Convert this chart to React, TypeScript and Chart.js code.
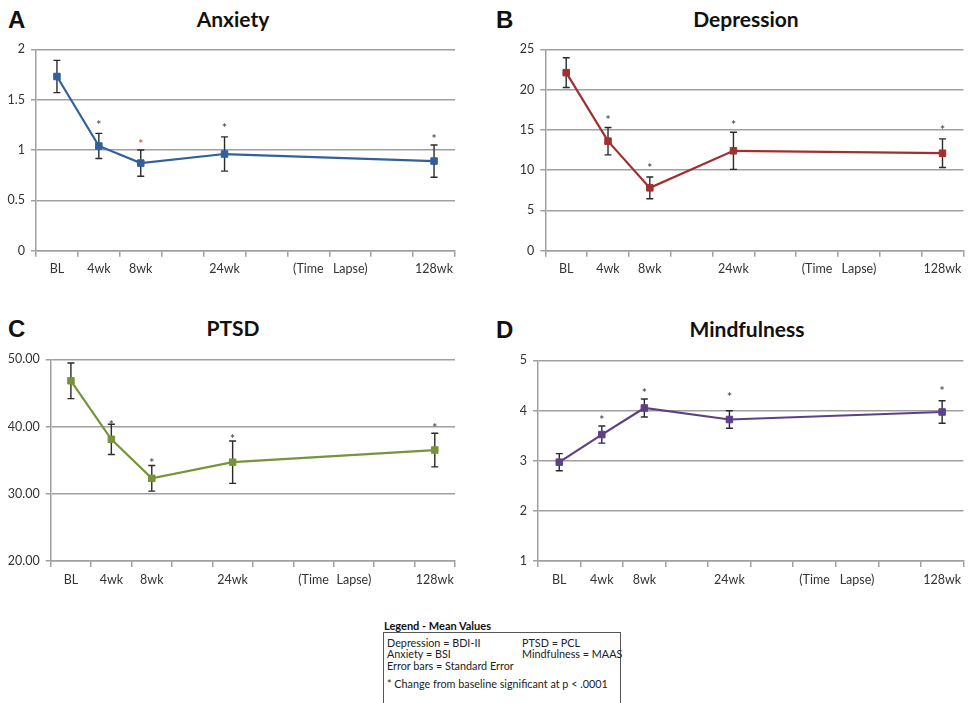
import React, { useEffect, useRef } from 'react';
import { Chart, registerables } from 'chart.js';

Chart.register(...registerables);

// ---------- data ----------
const categories = ['BL', '4wk', '8wk', '', '24wk', '', '(Time', 'Lapse)', '', '128wk'];

const anxietyMean = [1.73, 1.04, 0.87, null, 0.96, null, null, null, null, 0.89];
const anxietySE = [0.16, 0.125, 0.13, null, 0.17, null, null, null, null, 0.16];
const anxietySig = [null, 1.28, 1.09, null, 1.25, null, null, null, null, 1.14];
const anxietyTicks = [0, 0.5, 1, 1.5, 2];

const depressionMean = [22.1, 13.6, 7.8, null, 12.4, null, null, null, null, 12.1];
const depressionSE = [1.85, 1.7, 1.35, null, 2.3, null, null, null, null, 1.78];
const depressionSig = [null, 16.6, 10.6, null, 16.0, null, null, null, null, 15.3];
const depressionTicks = [0, 5, 10, 15, 20, 25];

const ptsdMean = [46.8, 38.1, 32.3, null, 34.7, null, null, null, null, 36.5];
const ptsdSE = [2.65, 2.25, 1.9, null, 3.15, null, null, null, null, 2.5];
const ptsdSig = [null, 40.7, 35.0, null, 38.6, null, null, null, null, 40.3];
const ptsdTicks = [20, 30, 40, 50];

const mindfulMean = [2.97, 3.52, 4.05, null, 3.82, null, null, null, null, 3.97];
const mindfulSE = [0.17, 0.17, 0.18, null, 0.175, null, null, null, null, 0.225];
const mindfulSig = [null, 3.86, 4.41, null, 4.33, null, null, null, null, 4.45];
const mindfulTicks = [1, 2, 3, 4, 5];

const legendRows = [
  ['Depression = BDI-II', 'PTSD = PCL'],
  ['Anxiety = BSI', 'Mindfulness = MAAS'],
  ['Error bars = Standard Error', ''],
];
const legendNote = '* Change from baseline significant at p < .0001';

// ---------- style ----------
const GRID = '#a0a0a0';
const TXT = '#333333';
const FONT = 'Lato, "Open Sans", sans-serif';

const errorBarPlugin = {
  id: 'errorBarsSig',
  beforeDatasetsDraw(chart: any) {
    const ds: any = chart.data.datasets[0];
    const xs = chart.scales.x;
    const ys = chart.scales.y;
    const ctx = chart.ctx;
    ctx.save();
    ctx.strokeStyle = '#2b2b2b';
    ctx.lineWidth = 1.4;
    ds.data.forEach((v: number | null, i: number) => {
      const se = ds.se[i];
      if (v == null || se == null) return;
      const x = xs.getPixelForValue(i);
      const yt = ys.getPixelForValue(v + se);
      const yb = ys.getPixelForValue(v - se);
      ctx.beginPath();
      ctx.moveTo(x, yt);
      ctx.lineTo(x, yb);
      ctx.moveTo(x - 3.5, yt);
      ctx.lineTo(x + 3.5, yt);
      ctx.moveTo(x - 3.5, yb);
      ctx.lineTo(x + 3.5, yb);
      ctx.stroke();
    });
    ctx.restore();
  },
  afterDatasetsDraw(chart: any) {
    const ds: any = chart.data.datasets[0];
    const xs = chart.scales.x;
    const ys = chart.scales.y;
    const ctx = chart.ctx;
    ctx.save();
    ctx.font = `bold 12px ${FONT}`;
    ctx.textAlign = 'center';
    ctx.textBaseline = 'alphabetic';
    ds.sig.forEach((v: number | null, i: number) => {
      if (v == null) return;
      const x = xs.getPixelForValue(i);
      const y = ys.getPixelForValue(v);
      ctx.fillStyle = (ds.sigColors && ds.sigColors[i]) || '#555555';
      ctx.fillText('*', x, y + 7);
    });
    ctx.restore();
  },
};

type PanelProps = {
  left: number; top: number; width: number; height: number;
  yWidth: number; padTop: number; padRight: number; xHeight: number;
  mean: (number | null)[]; se: (number | null)[]; sig: (number | null)[];
  ticks: number[]; color: string; decimals?: number; sigColors?: (string | null)[];
};

function Panel(p: PanelProps) {
  const ref = useRef<HTMLCanvasElement | null>(null);
  useEffect(() => {
    if (!ref.current) return;
    const tickVals = p.ticks;
    const chart = new Chart(ref.current, {
      type: 'line',
      data: {
        labels: categories,
        datasets: [
          {
            data: p.mean,
            se: p.se,
            sig: p.sig,
            sigColors: p.sigColors,
            borderColor: p.color,
            backgroundColor: p.color,
            pointBorderColor: p.color,
            pointBackgroundColor: p.color,
            borderWidth: 2.2,
            pointStyle: 'rect',
            pointRadius: 4.6,
            pointBorderWidth: 1,
            spanGaps: true,
            tension: 0,
          } as any,
        ],
      },
      options: {
        animation: false,
        responsive: false,
        devicePixelRatio: 1,
        layout: { padding: { top: p.padTop, right: p.padRight, left: 0, bottom: 0 } },
        plugins: { legend: { display: false }, tooltip: { enabled: false }, title: { display: false } },
        scales: {
          x: {
            type: 'category',
            offset: true,
            grid: { offset: true, drawOnChartArea: false, drawTicks: true, tickLength: 6, color: GRID, lineWidth: 1.5 },
            border: { display: true, color: GRID, width: 1.5 },
            ticks: { color: TXT, font: { family: FONT, size: 12.5 }, autoSkip: false, maxRotation: 0, minRotation: 0, padding: 5 },
            afterFit: (s: any) => { s.height = p.xHeight; },
          },
          y: {
            min: tickVals[0],
            max: tickVals[tickVals.length - 1],
            afterBuildTicks: (s: any) => { s.ticks = tickVals.map((v) => ({ value: v })); },
            grid: { color: GRID, lineWidth: 1.5, tickLength: 5, drawTicks: true },
            border: { display: true, color: GRID, width: 1.5 },
            ticks: {
              color: TXT,
              font: { family: FONT, size: 12.5 },
              padding: 6,
              callback: (v: any) => (p.decimals ? Number(v).toFixed(p.decimals) : String(v)),
            },
            afterFit: (s: any) => { s.width = p.yWidth; },
          },
        },
      },
      plugins: [errorBarPlugin as any],
    });
    return () => chart.destroy();
  }, []);
  return (
    <canvas
      ref={ref}
      width={p.width}
      height={p.height}
      style={{ position: 'absolute', left: p.left, top: p.top, width: p.width, height: p.height }}
    />
  );
}

const letterStyle = (left: number, top: number): React.CSSProperties => ({
  position: 'absolute', left, top, fontFamily: '"Liberation Sans", Arial, sans-serif',
  fontWeight: 'bold', fontSize: 24, lineHeight: '24px', color: '#111', margin: 0,
});
const titleStyle = (center: number, top: number): React.CSSProperties => ({
  position: 'absolute', left: center - 150, width: 300, top, textAlign: 'center', fontFamily: FONT,
  fontWeight: 'bold', fontSize: 21, lineHeight: '21px', color: '#111',
});

export default function App() {
  return (
    <div style={{ position: 'absolute', left: 0, top: 0, width: 969, height: 703, overflow: 'hidden', background: '#ffffff' }}>
      <div style={letterStyle(8, 8)}>A</div>
      <div style={titleStyle(233, 7.5)}>Anxiety</div>
      <div style={letterStyle(496, 8)}>B</div>
      <div style={titleStyle(746, 7.5)}>Depression</div>
      <div style={letterStyle(8, 317)}>C</div>
      <div style={titleStyle(233, 317)}>PTSD</div>
      <div style={letterStyle(496, 318)}>D</div>
      <div style={titleStyle(747, 317.5)}>Mindfulness</div>

      <Panel left={0} top={35} width={470} height={250} yWidth={36} padTop={14.3} padRight={15} xHeight={34.3}
        mean={anxietyMean} se={anxietySE} sig={anxietySig} ticks={anxietyTicks} color="#31609c"
        sigColors={[null, null, '#c0605a', null, null, null, null, null, null, null]} />
      <Panel left={480} top={35} width={489} height={250} yWidth={65.3} padTop={14.3} padRight={1.7} xHeight={34.3}
        mean={depressionMean} se={depressionSE} sig={depressionSig} ticks={depressionTicks} color="#a0302e" />
      <Panel left={0} top={345} width={470} height={250} yWidth={50.7} padTop={14.3} padRight={15} xHeight={34}
        mean={ptsdMean} se={ptsdSE} sig={ptsdSig} ticks={ptsdTicks} color="#76943a" decimals={2} />
      <Panel left={480} top={345} width={489} height={250} yWidth={58} padTop={15.3} padRight={2} xHeight={34}
        mean={mindfulMean} se={mindfulSE} sig={mindfulSig} ticks={mindfulTicks} color="#5c4189" />

      <div style={{ position: 'absolute', left: 384, top: 618.5, fontFamily: FONT, fontWeight: 'bold', fontSize: 11, lineHeight: '13px', color: '#111' }}>
        Legend - Mean Values
      </div>
      <div style={{ position: 'absolute', left: 383, top: 632, width: 238, height: 80, border: '1.5px solid #555', boxSizing: 'border-box', fontFamily: FONT, fontSize: 10.8, color: '#222' }}>
        {legendRows.map((row, i) => (
          <React.Fragment key={i}>
            <div style={{ position: 'absolute', left: 3, top: 2.5 + i * 11.7, lineHeight: '13px', whiteSpace: 'nowrap' }}>{row[0]}</div>
            <div style={{ position: 'absolute', left: 138, top: 2.5 + i * 11.7, lineHeight: '13px', whiteSpace: 'nowrap' }}>{row[1]}</div>
          </React.Fragment>
        ))}
        <div style={{ position: 'absolute', left: 3, top: 43.5, lineHeight: '13px', whiteSpace: 'nowrap' }}>{legendNote}</div>
      </div>
    </div>
  );
}
